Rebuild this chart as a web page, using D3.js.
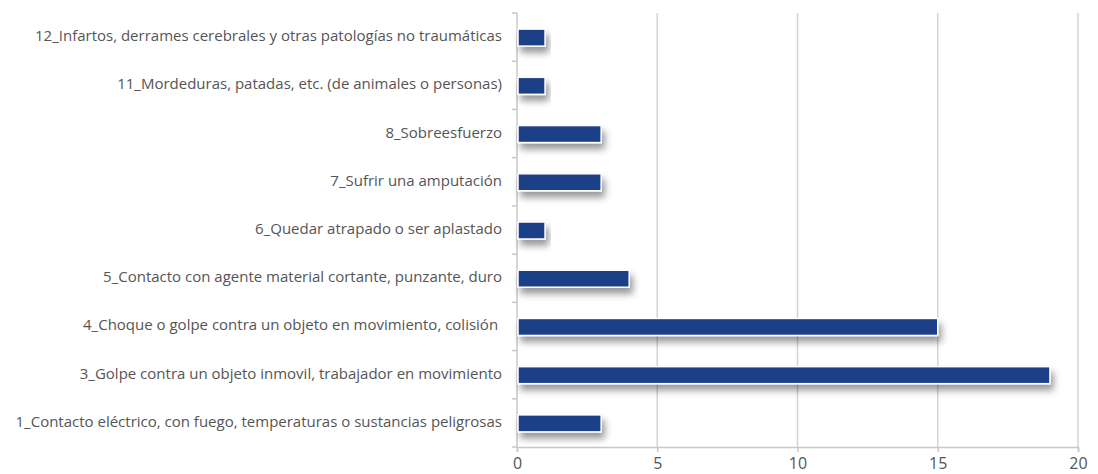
<!DOCTYPE html>
<html>
<head>
<meta charset="utf-8">
<script src="https://d3js.org/d3.v7.min.js"></script>
<style>
  body { margin: 0; background: #fff; }
  text { font-family: "Open Sans", sans-serif; fill: #555; }
</style>
</head>
<body>
<svg width="1098" height="474"></svg>
<script>
// categories top to bottom
var categories = [
  "12_Infartos, derrames cerebrales y otras patologías no traumáticas",
  "11_Mordeduras, patadas, etc. (de animales o personas)",
  "8_Sobreesfuerzo",
  "7_Sufrir una amputación",
  "6_Quedar atrapado o ser aplastado",
  "5_Contacto con agente material cortante, punzante, duro",
  "4_Choque o golpe contra un objeto en movimiento, colisión ",
  "3_Golpe contra un objeto inmovil, trabajador en movimiento",
  "1_Contacto eléctrico, con fuego, temperaturas o sustancias peligrosas"
];
var values = [1, 1, 3, 3, 1, 4, 15, 19, 3];
var xTicks = [0, 5, 10, 15, 20];

var svg = d3.select("svg");
var plotL = 517, plotR = 1078, plotT = 13, plotB = 447;

var x = d3.scaleLinear().domain([0, 20]).range([plotL, plotR]);
var y = d3.scaleBand().domain(categories).range([plotT, plotB]);

var defs = svg.append("defs");
var f = defs.append("filter").attr("id", "shadow")
  .attr("x", "-10%").attr("y", "-50%").attr("width", "130%").attr("height", "260%");
f.append("feDropShadow").attr("dx", 3).attr("dy", 6).attr("stdDeviation", 3.5)
  .attr("flood-color", "#000").attr("flood-opacity", 0.4);

// gridlines
svg.append("g").selectAll("line").data(xTicks.slice(1)).enter().append("line")
  .attr("x1", d => x(d)).attr("x2", d => x(d))
  .attr("y1", plotT).attr("y2", plotB)
  .attr("stroke", "#d4d4d4").attr("stroke-width", 1.5);

// bottom axis
var xAxis = svg.append("g").attr("transform", "translate(0," + plotB + ")")
  .call(d3.axisBottom(x).tickValues(xTicks).tickSize(5).tickPadding(6));
xAxis.select(".domain").attr("stroke", "#c8c8c8").attr("stroke-width", 1.5);
xAxis.selectAll(".tick line").attr("stroke", "#c8c8c8").attr("stroke-width", 1.5);
xAxis.selectAll("text").attr("font-size", 16).attr("fill", "#555")
  .style("font-family", "'Open Sans', sans-serif");

// left axis line and boundary ticks
svg.append("line").attr("x1", plotL).attr("x2", plotL).attr("y1", plotT).attr("y2", plotB)
  .attr("stroke", "#c8c8c8").attr("stroke-width", 1.5);
var bounds = categories.map(c => y(c)).concat([plotB]);
svg.append("g").selectAll("line").data(bounds).enter().append("line")
  .attr("x1", plotL - 5).attr("x2", plotL).attr("y1", d => d).attr("y2", d => d)
  .attr("stroke", "#c8c8c8").attr("stroke-width", 1.5);

// bars
var barH = 17;
svg.append("g").selectAll("rect").data(values).enter().append("rect")
  .attr("x", x(0) + 1)
  .attr("y", (d, i) => y(categories[i]) + y.bandwidth() / 2 - barH / 2 + 0.5)
  .attr("width", d => x(d) - x(0) - 1)
  .attr("height", barH)
  .attr("fill", "#1f3f87")
  .attr("stroke", "#fff").attr("stroke-width", 1.5)
  .attr("filter", "url(#shadow)");

// category labels
svg.append("g").selectAll("text").data(categories).enter().append("text")
  .attr("x", 502)
  .attr("y", d => y(d) + y.bandwidth() / 2)
  .attr("text-anchor", "end")
  .attr("dominant-baseline", "middle")
  .attr("font-size", 15)
  .style("white-space", "pre")
  .text(d => d);
</script>
</body>
</html>
